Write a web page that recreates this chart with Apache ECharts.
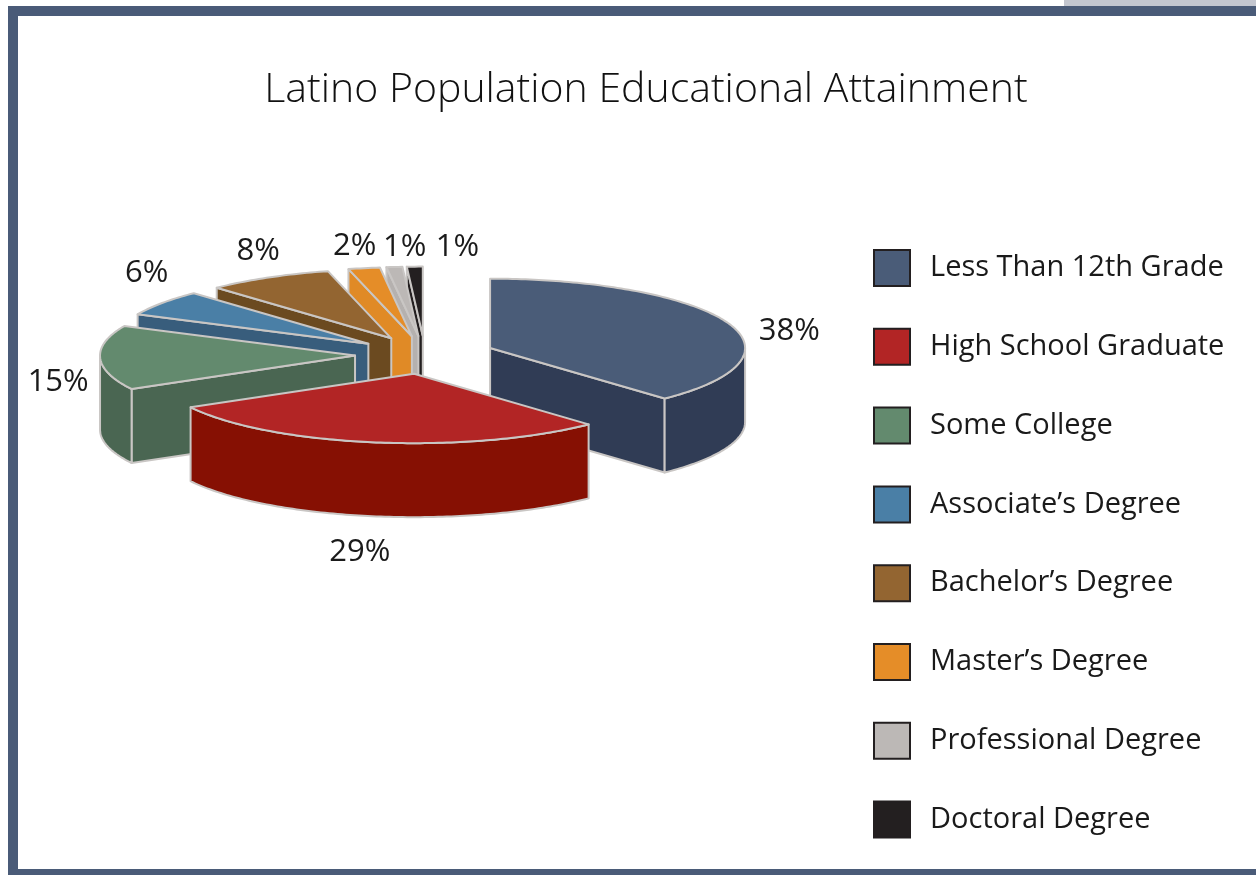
<!DOCTYPE html>
<html>
<head>
<meta charset="utf-8">
<script src="https://cdn.jsdelivr.net/npm/echarts@6/dist/echarts.min.js"></script>
<style>
  html, body { margin: 0; padding: 0; background: #fff; }
  #chart { width: 1256px; height: 875px; }
</style>
</head>
<body>
<div id="chart"></div>
<script>
const categories = [
  'Less Than 12th Grade',
  'High School Graduate',
  'Some College',
  'Associate\u2019s Degree',
  'Bachelor\u2019s Degree',
  'Master\u2019s Degree',
  'Professional Degree',
  'Doctoral Degree'
];
const shares = [38, 29, 15, 6, 8, 2, 1, 1];
const topColors = ['#4a5c78', '#b22525', '#638a6e', '#4a7fa6', '#936531', '#e58d28', '#bcb8b6', '#231f20'];
const sideColors = ['#303c55', '#861003', '#4a6652', '#385d7c', '#6b4a20', '#e08a26', '#b5b1af', '#231f20'];

// Tilted, exploded 3D pie geometry in pixels
const PIE = { cx: 425, cy: 355, r: 255, tilt: 0.272, depth: 74, explode: 70 };
// Per-label shift from the default outside position
const labelNudge = [[25, 13], [-8, 99], [-2, 24], [17, -23], [9, -17], [-2, -11], [14, -9], [44, -9]];

const total = shares.reduce((a, b) => a + b, 0);
const rad = d => d * Math.PI / 180;
// Screen direction of an angle measured clockwise from 12 o'clock on the tilted disc
const dir = deg => [Math.sin(rad(deg)), -PIE.tilt * Math.cos(rad(deg))];

function sliceGeom(i, value) {
  let before = 0;
  for (let j = 0; j < i; j++) before += shares[j];
  const a0 = before / total * 360;
  const a1 = (before + value) / total * 360;
  const mid = (a0 + a1) / 2;
  const d = dir(mid);
  return { a0, a1, mid, ax: PIE.cx + PIE.explode * d[0], ay: PIE.cy + PIE.explode * d[1] };
}
function rim(g, deg, dy) {
  const d = dir(deg);
  return [g.ax + PIE.r * d[0], g.ay + PIE.r * d[1] + (dy || 0)];
}
function arc(g, s, e, dy) {
  const pts = [];
  const n = Math.max(2, Math.ceil(Math.abs(e - s)));
  for (let t = 0; t <= n; t++) pts.push(rim(g, s + (e - s) * t / n, dy));
  return pts;
}

function makeRender(i) {
  return function (params, api) {
    const value = api.value(0);
    const g = sliceGeom(i, value);
    const D = PIE.depth;
    const children = [];
    const face = (pts, fill, z) => children.push({
      type: 'polygon', z2: z, shape: { points: pts },
      style: { fill: fill, stroke: '#c9c6c4', lineWidth: 2, lineJoin: 'round' }
    });
    // radial walls that face the viewer
    [[g.a0, g.a0 - 90], [g.a1, g.a1 + 90]].forEach(([ang, normal]) => {
      if (Math.cos(rad(normal)) < -1e-6) {
        const p = rim(g, ang);
        face([[g.ax, g.ay], p, [p[0], p[1] + D], [g.ax, g.ay + D]], sideColors[i], 1);
      }
    });
    // outer curved wall on the front half of the disc
    const s = Math.max(g.a0, 90), e = Math.min(g.a1, 270);
    if (e > s) face(arc(g, s, e, 0).concat(arc(g, e, s, D)), sideColors[i], 2);
    // top face
    face([[g.ax, g.ay]].concat(arc(g, g.a0, g.a1, 0)), topColors[i], 3);
    // percentage label
    const d = dir(g.mid), rr = PIE.r + 40;
    children.push({
      type: 'text', z2: 4,
      x: g.ax + rr * d[0] + labelNudge[i][0],
      y: g.ay + rr * d[1] + labelNudge[i][1],
      style: {
        text: value + '%', fill: '#1a1a1a', font: '31px "Open Sans"',
        align: 'center', verticalAlign: 'middle'
      }
    });
    return { type: 'group', children: children };
  };
}

// paint back slices first
const order = shares.map((v, i) => i).sort((p, q) =>
  Math.cos(rad(sliceGeom(q, shares[q]).mid)) - Math.cos(rad(sliceGeom(p, shares[p]).mid)));
const drawRank = [];
order.forEach((idx, r) => { drawRank[idx] = r; });

const chart = echarts.init(document.getElementById('chart'), null, { renderer: 'canvas' });
chart.setOption({
  animation: false,
  backgroundColor: '#ffffff',
  title: {
    text: 'Latino Population Educational Attainment',
    left: 641, top: 65, textAlign: 'center',
    textStyle: { fontFamily: 'Open Sans', fontWeight: 300, fontSize: 41, color: '#111111' }
  },
  legend: {
    orient: 'vertical', left: 873, top: 249, padding: 0,
    itemWidth: 36, itemHeight: 36, itemGap: 40.8,
    icon: 'rect', selectedMode: false,
    itemStyle: { borderColor: '#231f20', borderWidth: 2 },
    textStyle: { fontFamily: 'Open Sans', fontSize: 29, lineHeight: 36, color: '#1a1a1a', padding: [0, 0, 0, 15] },
    data: categories
  },
  graphic: [
    { type: 'rect', silent: true, shape: { x: 1064, y: 0, width: 192, height: 6 }, style: { fill: '#c3c6cf' } },
    { type: 'rect', silent: true, shape: { x: 8, y: 6, width: 1248, height: 10 }, style: { fill: '#4a5b78' } },
    { type: 'rect', silent: true, shape: { x: 8, y: 6, width: 10, height: 869 }, style: { fill: '#4a5b78' } },
    { type: 'rect', silent: true, shape: { x: 8, y: 869, width: 1248, height: 6 }, style: { fill: '#4a5b78' } }
  ],
  series: categories.map((name, i) => ({
    type: 'custom',
    name: name,
    coordinateSystem: 'none',
    z: 2 + drawRank[i],
    silent: true,
    itemStyle: { color: topColors[i] },
    data: [[shares[i]]],
    renderItem: makeRender(i)
  }))
});
</script>
</body>
</html>
